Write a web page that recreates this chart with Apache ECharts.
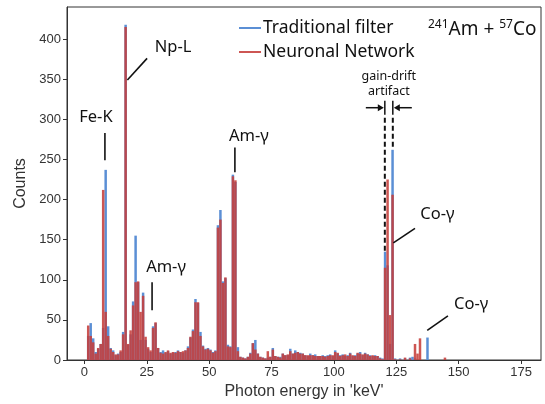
<!DOCTYPE html>
<html><head><meta charset="utf-8">
<script src="https://cdn.jsdelivr.net/npm/echarts@6/dist/echarts.min.js"></script>
<style>html,body{margin:0;padding:0;background:#fff}#c{width:545px;height:404px}</style>
</head><body><div id="c"></div>
<script>
// Histogram bin starts (keV), bin width 1 keV
const binStart = [0,1,2,3,4,5,6,7,8,9,10,11,12,13,14,15,16,17,18,19,20,21,22,23,24,25,26,27,28,29,30,31,32,33,34,35,36,37,38,39,40,41,42,43,44,45,46,47,48,49,50,51,52,53,54,55,56,57,58,59,60,61,62,63,64,65,66,67,68,69,70,71,72,73,74,75,76,77,78,79,80,81,82,83,84,85,86,87,88,89,90,91,92,93,94,95,96,97,98,99,100,101,102,103,104,105,106,107,108,109,110,111,112,113,114,115,116,117,118,119,120,121,122,123,124,125,126,127,128,129,130,131,132,133,134,135,136,137,138,139,140,141,142,143,144,145];
const traditional = [0,30,46,27,10,14,20,40,237,42, 15,12,6,8,10,35,418,19,32,73, 155,97,25,84,25,14,10,42,46,15, 10,12,9,11,8,9,10,12,10,9, 12,17,28,38,76,71,35,18,14,15, 13,10,12,168,187,98,102,19,17,231, 222,16,4,3,2,4,9,21,25,8, 4,3,2,3,4,15,5,4,4,8, 6,6,14,8,12,10,9,8,6,5, 8,6,7,5,5,6,5,6,7,5, 12,8,6,7,5,6,9,5,6,8, 10,6,9,7,6,5,6,5,3,2, 135,118,20,262,2,0,2,0,2,0, 3,4,2,0,0,0,0,28,0,0, 0,0,0,0,0,0];
const neuronal = [0,43,30,22,8,15,20,212,60,30, 14,10,7,7,12,32,415,20,37,68, 97,98,60,80,29,16,12,40,47,15, 9,8,10,12,9,10,9,11,10,11, 12,15,29,36,72,72,30,17,13,14, 12,9,11,165,175,96,103,17,16,229, 224,11,4,3,2,4,8,21,13,8, 4,3,2,11,4,13,5,4,3,8, 6,7,11,8,9,10,8,8,6,6, 6,6,5,5,5,5,4,5,6,6, 10,9,5,6,7,5,8,6,5,9, 8,7,8,7,5,6,5,5,2,1, 115,225,56,206,1,0,1,0,3,0, 2,0,20,8,27,0,0,0,0,0, 0,0,0,0,3,0];
const seriesNames = ['Traditional filter', 'Neuronal Network'];
const xTicks = [0,25,50,75,100,125,150,175];
const yTicks = [0,50,100,150,200,250,300,350,400];
const binWidth = 1;

// annotations in data coordinates [keV, counts]
const annotations = [
  {text:'Fe-K', at:[4.6,303], line:[[8.2,283],[8.2,249]]},
  {text:'Np-L', at:[35.5,390], line:[[25.1,376],[17.2,349]]},
  {text:'Am-γ', at:[65.9,279], line:[[60.3,265],[60.3,234]]},
  {text:'Am-γ', at:[32.7,115], line:[[27.1,97],[27.1,62]]},
  {text:'Co-γ', at:[141.5,181], line:[[132.5,164],[123.8,146]]},
  {text:'Co-γ', at:[155,69], line:[[145.7,55],[137.4,37]]}
];
const driftLines = [120.4, 123.6];

const chart = echarts.init(document.getElementById('c'), null, {renderer:'canvas'});
function hist(params, api){
  const x0 = api.value(0), h = api.value(1);
  const p0 = api.coord([x0, h]);
  const p1 = api.coord([x0 + binWidth, 0]);
  return {type:'rect', shape:{x:p0[0], y:p0[1], width:p1[0]-p0[0], height:p1[1]-p0[1]}, style: api.style()};
}
const tickFont = {fontFamily:'Liberation Sans, Arial, sans-serif', fontSize:13, color:'#333'};
const nameFont = {fontFamily:'Liberation Sans, Arial, sans-serif', fontSize:16, color:'#333'};
chart.setOption({
  animation:false,
  grid:{left:67, right:4, top:7, bottom:44, show:true, borderColor:'#333', borderWidth:1, containLabel:false, outerBoundsMode:'none'},
  legend:{
    orient:'vertical', left:234, top:14, itemWidth:22, itemHeight:2, itemGap:6, icon:'rect',
    data:seriesNames,
    textStyle:{fontFamily:'Noto Sans, sans-serif', fontSize:17.5, color:'#111', padding:[0,0,0,-3]}
  },
  xAxis:{
    type:'value', min:-7, max:183,
    splitLine:{show:false},
    axisLine:{show:true, onZero:false, lineStyle:{color:'#333'}},
    axisTick:{show:true, length:4, customValues:xTicks, lineStyle:{color:'#333'}},
    axisLabel:Object.assign({margin:6, customValues:xTicks}, tickFont),
    name:"Photon energy in 'keV'", nameLocation:'middle', nameGap:24,
    nameTextStyle:nameFont
  },
  yAxis:{
    type:'value', min:0, max:440,
    splitLine:{show:false},
    axisLine:{show:true, onZero:false, lineStyle:{color:'#333'}},
    axisTick:{show:true, length:4, customValues:yTicks, lineStyle:{color:'#333'}},
    axisLabel:Object.assign({margin:6, customValues:yTicks}, tickFont),
    name:'Counts', nameLocation:'middle', nameGap:38,
    nameTextStyle:nameFont
  },
  series:[
    {name:seriesNames[0], type:'custom', renderItem:hist, clip:true,
     itemStyle:{color:'#5b8fd5'},
     data:binStart.map((e,i)=>[e, traditional[i]])},
    {name:seriesNames[1], type:'custom', renderItem:hist, clip:true,
     itemStyle:{color:'#c63f3b', opacity:0.88},
     data:binStart.map((e,i)=>[e, neuronal[i]])}
  ]
});

const px = p => chart.convertToPixel({xAxisIndex:0, yAxisIndex:0}, p);
const g = [];
const annFont = 'Noto Sans, sans-serif';
annotations.forEach(a => {
  const t = px(a.at);
  g.push({type:'text', x:t[0], y:t[1], style:{text:a.text, font:'16.5px ' + annFont, fill:'#111', align:'center', verticalAlign:'middle'}, z:100});
  const l0 = px(a.line[0]), l1 = px(a.line[1]);
  g.push({type:'line', shape:{x1:l0[0], y1:l0[1], x2:l1[0], y2:l1[1]}, style:{stroke:'#111', lineWidth:1.6}, z:100});
});
// gain-drift artifact annotation
const dl = driftLines.map(v => px([v, 0])[0]);
const topY = px([0, 302])[1];
const leftEnd = px([driftLines[0], 135])[1];
const rightEnd = px([driftLines[1], 262])[1];
g.push({type:'line', shape:{x1:dl[0], y1:topY, x2:dl[0], y2:leftEnd}, style:{stroke:'#111', lineWidth:2, lineDash:[5,3]}, z:100});
g.push({type:'line', shape:{x1:dl[1], y1:topY, x2:dl[1], y2:rightEnd}, style:{stroke:'#111', lineWidth:2, lineDash:[5,3]}, z:100});
const arY = topY - 10;
g.push({type:'line', shape:{x1:dl[0], y1:arY-7, x2:dl[0], y2:arY+7}, style:{stroke:'#111', lineWidth:1.5}, z:100});
g.push({type:'line', shape:{x1:dl[1], y1:arY-7, x2:dl[1], y2:arY+7}, style:{stroke:'#111', lineWidth:1.5}, z:100});
g.push({type:'line', shape:{x1:dl[0]-19, y1:arY, x2:dl[0]-4, y2:arY}, style:{stroke:'#111', lineWidth:1.5}, z:100});
g.push({type:'polygon', shape:{points:[[dl[0]-1,arY],[dl[0]-7,arY-3.5],[dl[0]-7,arY+3.5]]}, style:{fill:'#111'}, z:100});
g.push({type:'line', shape:{x1:dl[1]+4, y1:arY, x2:dl[1]+19, y2:arY}, style:{stroke:'#111', lineWidth:1.5}, z:100});
g.push({type:'polygon', shape:{points:[[dl[1]+1,arY],[dl[1]+7,arY-3.5],[dl[1]+7,arY+3.5]]}, style:{fill:'#111'}, z:100});
const mid = (dl[0] + dl[1]) / 2;
g.push({type:'text', x:mid, y:arY-31, style:{text:'gain-drift', font:'12.5px ' + annFont, fill:'#111', align:'center', verticalAlign:'middle'}, z:100});
g.push({type:'text', x:mid, y:arY-16, style:{text:'artifact', font:'12.5px ' + annFont, fill:'#111', align:'center', verticalAlign:'middle'}, z:100});
// title
g.push({type:'text', left:428, top:19, z:100, style:{
  text:'{s|241}{m|Am + }{s|57}{m|Co}',
  rich:{
    s:{fontFamily:annFont, fontSize:12, fill:'#111', verticalAlign:'top', padding:[0,0,10,0]},
    m:{fontFamily:annFont, fontSize:19, fill:'#111'}
  }
}});
chart.setOption({graphic:g});
</script>
</body></html>
